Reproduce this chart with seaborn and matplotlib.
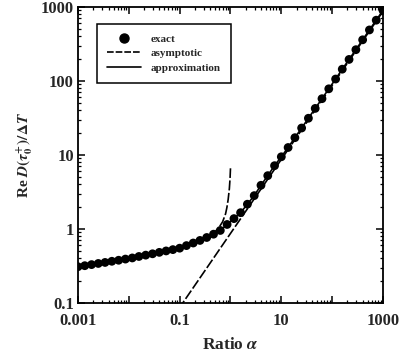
import numpy as np
import pandas as pd
import matplotlib
matplotlib.use("Agg")
import matplotlib.pyplot as plt
import seaborn as sns
from matplotlib.ticker import LogLocator, NullFormatter, FixedLocator, FixedFormatter
from matplotlib.lines import Line2D

# ---- data ----
alpha_exact = [0.001, 0.00136, 0.00185, 0.00251, 0.00341, 0.00464, 0.00631, 0.00858,
               0.0117, 0.0158, 0.0215, 0.0293, 0.0398, 0.0541, 0.0736, 0.1,
               0.136, 0.185, 0.251, 0.341, 0.464, 0.631, 0.858, 1.17, 1.58, 2.15,
               2.93, 3.98, 5.41, 7.36, 10.0, 13.6, 18.5, 25.1, 34.1, 46.4, 63.1,
               85.8, 117, 158, 215, 293, 398, 541, 736, 1000]
y_exact = [0.309, 0.319, 0.330, 0.342, 0.353, 0.366, 0.378, 0.392,
           0.406, 0.425, 0.443, 0.462, 0.483, 0.505, 0.526, 0.550,
           0.596, 0.646, 0.700, 0.767, 0.85, 0.955, 1.15, 1.38, 1.66, 2.16,
           2.82, 3.89, 5.25, 7.16, 9.44, 12.6, 17.1, 23.1, 31.3, 42.5, 57.5,
           78.2, 106, 144, 195, 264, 359, 488, 661, 897]

alpha_asym_small = [0.001, 0.01, 0.1, 0.2, 0.3, 0.4, 0.5, 0.6, 0.7, 0.8, 0.85, 0.9, 0.95, 0.98, 1.0]
y_asym_small = [0.31, 0.40, 0.55, 0.64, 0.72, 0.81, 0.92, 1.06, 1.25, 1.6, 1.95, 2.5, 3.5, 4.8, 6.6]

alpha_asym_large = [0.05, 1000]
y_asym_large = [0.0435, 870]

alpha_approx = alpha_exact
y_approx = y_exact

x_tick_labels = ["0.001", "", "0.1", "", "10", "", "1000"]
y_tick_labels = ["0.1", "1", "10", "100", "1000"]

# ---- plotting ----
sns.set_theme(style="ticks")
plt.rcParams["font.family"] = ["Liberation Serif", "DejaVu Serif"]
plt.rcParams["font.weight"] = "bold"
plt.rcParams["mathtext.fontset"] = "stix"

fig = plt.figure(figsize=(4.07, 3.62), dpi=100)
ax = fig.add_axes([0.1916, 0.163, 0.7494, 0.818])

df_exact = pd.DataFrame({"alpha": alpha_exact, "y": y_exact})
df_approx = pd.DataFrame({"alpha": alpha_approx, "y": y_approx})
df_as = pd.DataFrame({"alpha": alpha_asym_small, "y": y_asym_small})
df_al = pd.DataFrame({"alpha": alpha_asym_large, "y": y_asym_large})

sns.lineplot(data=df_approx, x="alpha", y="y", ax=ax, color="black", lw=1.2, zorder=2)
sns.lineplot(data=df_as, x="alpha", y="y", ax=ax, color="black", lw=1.2,
             linestyle=(0, (6, 1.5)), zorder=2)
sns.lineplot(data=df_al, x="alpha", y="y", ax=ax, color="black", lw=1.2,
             linestyle=(0, (6, 1.5)), zorder=2)
sns.scatterplot(data=df_exact, x="alpha", y="y", ax=ax, color="black", s=40,
                edgecolor="none", zorder=3, clip_on=True)

ax.set_xscale("log")
ax.set_yscale("log")
ax.set_xlim(0.001, 1000)
ax.set_ylim(0.1, 1000)

ax.xaxis.set_major_locator(FixedLocator([1e-3, 1e-2, 1e-1, 1, 10, 100, 1000]))
ax.xaxis.set_major_formatter(FixedFormatter(x_tick_labels))
ax.xaxis.set_minor_locator(LogLocator(base=10, subs=np.arange(2, 10), numticks=20))
ax.xaxis.set_minor_formatter(NullFormatter())
ax.yaxis.set_major_locator(FixedLocator([0.1, 1, 10, 100, 1000]))
ax.yaxis.set_major_formatter(FixedFormatter(y_tick_labels))
ax.yaxis.set_minor_locator(LogLocator(base=10, subs=np.arange(2, 10), numticks=20))
ax.yaxis.set_minor_formatter(NullFormatter())

ax.tick_params(which="both", direction="in", top=True, right=True, color="black")
ax.tick_params(which="major", length=5, width=1.1, labelsize=12)
ax.tick_params(axis="x", which="major", pad=7)
ax.tick_params(axis="y", which="major", pad=3)
ax.tick_params(which="minor", length=2.5, width=0.9)
for lab in ax.get_xticklabels() + ax.get_yticklabels():
    lab.set_fontweight("bold")
for sp in ax.spines.values():
    sp.set_linewidth(1.3)
    sp.set_color("black")

ax.set_xlabel(r"Ratio $\alpha$", fontsize=12.5, fontweight="bold", labelpad=6)
ax.set_ylabel(r"Re $D(\tau_0^{+})/\Delta T$", fontsize=11, fontweight="bold", labelpad=4)

handles = [Line2D([], [], marker="o", color="black", ls="none", markersize=6.5),
           Line2D([], [], color="black", lw=1.2, ls=(0, (4, 1.2))),
           Line2D([], [], color="black", lw=1.2)]
leg = ax.legend(handles, ["exact", "asymptotic", "approximation"],
                loc="upper left", bbox_to_anchor=(0.045, 0.96), frameon=True,
                fancybox=False, edgecolor="black", framealpha=1,
                prop={"family": "Liberation Serif", "weight": "bold", "size": 8},
                handlelength=3.0, handletextpad=0.9, borderpad=0.9, labelspacing=0.4)
leg.get_frame().set_linewidth(1.1)

fig.savefig("out.png", dpi=100)
